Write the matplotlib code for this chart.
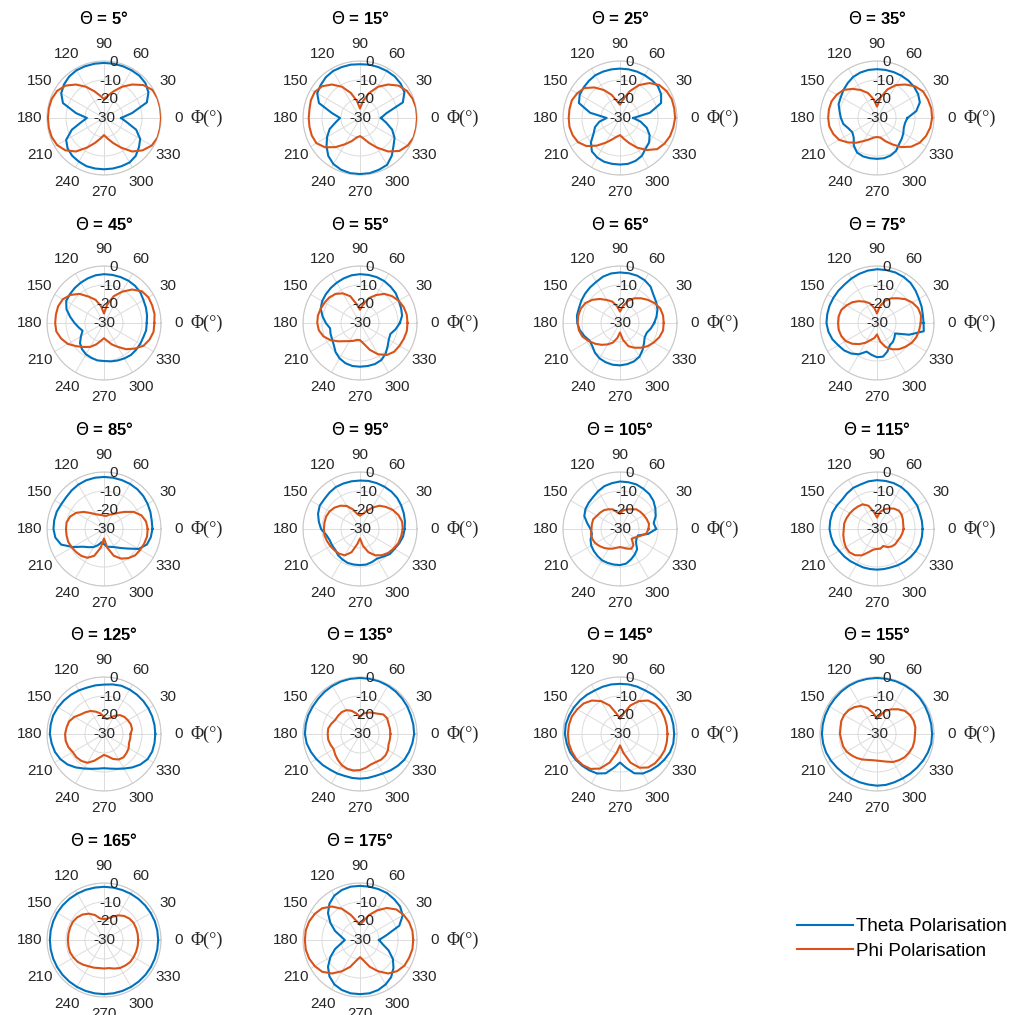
import numpy as np
import matplotlib
matplotlib.use("Agg")
import matplotlib.pyplot as plt
from matplotlib.lines import Line2D

plt.rcParams['font.family'] = ['Liberation Sans', 'DejaVu Sans']
plt.rcParams['mathtext.fontset'] = 'dejavusans'
plt.rcParams['axes.unicode_minus'] = False

# Azimuth angles (degrees)
phi_deg = list(range(0, 360, 10))
theta_cuts = [5, 15, 25, 35, 45, 55, 65, 75, 85, 95, 105, 115, 125, 135, 145, 155, 165, 175]
r_ticks = [-30, -20, -10, 0]
phi_ticks = list(range(0, 360, 30))

# Theta polarisation (dB), values at phi = 0,10,...,350
t005 = [-21, -15, -6, -3, -1.5, -1, -1, -1, -1, -1, -1, -1, -1, -1.5, -2.5, -4, -7, -15,
        -21, -18, -12, -7, -5, -4, -3.5, -3, -3, -3, -3, -3, -3, -4, -6, -8, -12, -18]
t015 = [-19, -16, -6, -3, -2, -1.5, -1.5, -1.5, -1.5, -1.7, -1.5, -1.5, -1.5, -2, -3, -4, -7, -15,
        -19.5, -17, -13, -10, -7, -4, -2, -1, -0.5, -0.5, -0.5, -1, -1.5, -4, -7, -9, -12, -16]
t025 = [-23, -14, -7, -5, -4, -4, -4, -4, -4, -4, -4, -4, -4, -4.5, -5, -5.5, -7, -14,
        -23, -19, -16, -14, -10, -7, -6, -5.5, -5.5, -5.5, -5.5, -6, -7, -9, -10, -12, -15, -19]
t035 = [-14, -9, -6, -5, -4.5, -4.3, -4.3, -4.3, -4.3, -4.3, -4.3, -4.5, -5, -6, -7, -8, -8.5, -10,
        -11, -12, -14, -15, -14, -11, -9, -8.5, -8.5, -8.5, -8.5, -9, -10, -12, -13, -14, -15, -15]
t045 = [-7.5, -7, -6.5, -6, -5, -4.5, -4.3, -4.3, -4.3, -4.3, -4.5, -5, -5.5, -6, -6.5, -7, -9, -12,
        -14.5, -16.5, -18, -16, -13.5, -12, -11, -10.5, -10, -10, -9.5, -9, -8.5, -8, -8, -8, -8, -7.5]
t055 = [-9, -7.5, -7, -6.5, -5.5, -5, -4.5, -4.3, -4.3, -4.3, -4.5, -5, -5.5, -6, -6.5, -7, -8, -10,
        -12, -14, -13.5, -13, -12, -10, -8.5, -7.5, -7, -7, -7, -7, -7.5, -9, -11, -12.5, -13, -11]
t065 = [-12, -10.5, -9, -8, -7, -5, -4, -3.5, -3.4, -3.4, -3.5, -4, -5, -5.5, -6, -6.5, -7, -7,
        -7.5, -8.5, -10, -11.5, -11, -9.5, -8.5, -8, -7.7, -7.7, -8, -8.5, -9.5, -11.5, -13.5, -15, -15, -13.5]
t075 = [-5.5, -5.5, -5, -4.5, -3.5, -2.5, -2, -1.7, -1.7, -1.7, -2, -2.5, -3, -3.5, -3.5, -3.5, -3.4, -3.4,
        -3.4, -4, -5, -6.5, -7.5, -9, -11, -14, -13, -12, -12, -14, -16.5, -17, -18, -19, -12, -5]
t085 = [-4.5, -4.5, -4, -3.5, -3, -2.7, -2.6, -2.6, -2.6, -2.6, -2.6, -2.7, -3, -3.5, -4, -4, -3.5, -3.4,
        -3.4, -4, -6, -11, -15.5, -17.5, -19, -21, -23, -22, -20.5, -20, -19, -17, -14, -9, -6, -5]
t095 = [-6.5, -6, -5.5, -5, -4.5, -4.3, -4.3, -4.3, -4.3, -4.5, -4.5, -4.5, -4.5, -5, -5.5, -5.5, -6.5, -8,
        -9.5, -12, -13, -13, -13, -12, -11.5, -11, -11, -11, -11, -11.5, -12, -11, -9.5, -9, -8, -7]
t105 = [-11, -12, -10, -8.5, -7, -6, -5.5, -5, -5, -5, -5.5, -6, -7, -8, -8.5, -9, -10, -12.5,
        -14.5, -15, -13.5, -12.5, -12, -11.5, -11, -11, -11, -11, -11.5, -13, -14.5, -16, -19, -20, -20, -15]
t115 = [-6, -6, -6, -5.5, -5.5, -5, -4.5, -4.3, -4.3, -4.3, -4.5, -5, -5, -5.5, -6, -5.5, -5, -5,
        -5, -5.5, -6, -7, -7.5, -8, -8.5, -8.5, -8.6, -8.6, -8.6, -8.5, -8, -7.5, -7, -6.5, -6, -6]
t125 = [-3, -3, -3, -3, -3, -3, -3, -3, -3.5, -4, -4, -4, -3.5, -3, -2.5, -2, -1.5, -1.5,
        -1.5, -2, -2.5, -3.5, -5, -7, -9, -10.5, -11.5, -12, -11.5, -10.5, -9, -7, -5, -3.5, -3, -3]
t135 = [-1.5, -1.5, -1.5, -1.2, -1, -0.8, -0.6, -0.5, -0.5, -0.5, -0.5, -0.6, -0.8, -1, -1.2, -1.2, -1, -1,
        -1, -1.5, -2.5, -3.5, -4.5, -5.5, -6, -6.5, -6.5, -6.5, -6.5, -6.5, -6, -5, -4, -3, -2.5, -2]
t145 = [-1.5, -1.5, -1.5, -2, -2.5, -3, -3.5, -3.5, -3.5, -3.6, -3.5, -3.5, -3.5, -3, -2.5, -2, -1.5, -1,
        -1, -1.5, -2, -3, -4, -5, -6, -8, -12, -15, -12, -8, -6, -5, -4, -3, -2, -1.5]
t155 = [-1, -1, -1, -0.8, -0.6, -0.5, -0.5, -0.5, -0.5, -0.5, -0.5, -0.5, -0.6, -0.8, -1, -1, -1, -1,
        -1, -1.2, -1.5, -2, -2.5, -2.8, -3, -3, -3, -2.8, -2.8, -3, -3, -2.8, -2.5, -2, -1.5, -1]
t165 = [-1.5, -1.5, -1.5, -1.6, -1.7, -1.8, -1.9, -2, -2, -2, -2, -1.9, -1.8, -1.7, -1.6, -1.5, -1.5, -1.5,
        -1.5, -1.5, -1.5, -1.5, -1.5, -1.5, -1.5, -1.5, -1.5, -1.5, -1.5, -1.5, -1.5, -1.5, -1.5, -1.5, -1.5, -1.5]
t175 = [-20, -16, -8, -4, -2.5, -2, -1.5, -1.5, -1.5, -1.5, -1.5, -2, -3, -5, -8, -12, -16, -20,
        -22, -20, -16, -12, -8, -5, -3, -2, -1.5, -1.5, -1.5, -2, -3, -4.5, -7, -10, -14, -18]

# Phi polarisation (dB), values at phi = 0,10,...,350
p005 = [0, 0, 0, -0.5, -3, -7, -11, -15, -18, -20, -18, -15, -11, -7, -3.5, -1.5, -0.7, -0.5,
        -0.5, -0.5, -0.7, -1.5, -3.5, -7, -12, -16, -19, -21, -19, -16, -12, -7, -3.5, -1, 0, 0]
p015 = [0, 0, -0.5, -1.5, -3.5, -7, -11, -16, -21, -25, -21, -16, -11, -7, -4, -2.5, -2.5, -3,
        -3, -3, -3, -3.5, -6, -10, -14, -17, -19.5, -20.5, -19, -16, -12, -7, -3, -1, 0, 0]
p025 = [-1, -1, -1, -1.7, -3, -6, -10, -15, -20, -23, -21, -17, -13, -9, -5.5, -4, -3, -3,
        -3, -3, -3.5, -4.5, -7, -11, -15, -18, -20, -21, -19, -16, -12, -8, -4.5, -3, -2, -1.5]
p035 = [-1, -1, -1.5, -2, -4, -7, -10, -14, -19, -24, -20, -16, -13, -10, -7, -5.5, -4.5, -4.3,
        -4.3, -4.5, -5.5, -7, -10, -13, -16, -18, -19.5, -20, -19.5, -17, -14, -10, -6.5, -4, -2.5, -1.5]
p045 = [-3.5, -3, -3, -3, -4, -7, -11, -15, -20, -25, -21, -17, -14, -10, -7, -5, -4.3, -4.3,
        -4.3, -4.5, -6, -8, -11, -13.5, -15.5, -18, -20.5, -22, -20.5, -18, -15.5, -12, -9, -6, -4.5, -3.5]
p055 = [-5, -5, -5.5, -6.5, -8, -10, -13, -16, -20, -23, -20, -15, -12, -10, -9, -8.5, -8, -7.5,
        -7.5, -8, -9.5, -12, -15, -17.5, -19, -20, -21, -21, -19, -15, -11, -8, -6.5, -6, -5.5, -5]
p065 = [-7, -7, -7.5, -9, -11, -13, -15, -17.5, -21, -24, -21, -18, -16, -13.5, -11, -9, -8, -7.7,
        -7.7, -8, -9, -11, -13, -15, -17, -19, -22, -25, -21, -17, -15, -13, -11, -9.5, -8, -7]
p075 = [-7, -6.5, -7, -8.5, -10.5, -13, -15, -17.5, -21, -25, -22, -19, -17, -15, -13, -11.5, -10, -9.5,
        -9.5, -9.5, -10, -11, -13, -15.5, -18, -20.5, -22, -24, -20, -16.5, -14, -12, -10.5, -9, -8, -7.5]
p085 = [-7, -7.5, -9, -12, -16, -19, -21, -22, -23, -23, -22.5, -22, -21, -19, -16, -13, -11, -10,
        -10, -10, -10, -10.5, -11, -11.5, -12.5, -15, -20, -25, -20, -15, -12, -10, -8.5, -8, -7.5, -7]
p095 = [-7.5, -7.5, -8.5, -10, -12, -14, -17, -20, -22, -23, -22, -19, -16, -14, -12.5, -11.5, -11, -11,
        -11, -11, -11.5, -12, -12.5, -13, -14, -17, -22, -25, -21, -17, -14, -12, -10.5, -9.5, -8.5, -8]
p105 = [-15, -14.5, -15, -15.5, -16, -16.5, -18, -19, -20, -22, -21, -19, -18, -17, -16.5, -16, -15, -15,
        -15, -14.5, -14.5, -15, -16, -17, -18, -19, -20, -20.5, -20, -19, -18, -19, -22, -21, -19, -16]
p115 = [-16, -16, -15.5, -15, -15, -16, -17.5, -19, -21, -24, -21, -17, -15, -14.5, -14, -13.5, -13, -12.5,
        -12.5, -12, -11.5, -11, -11, -12, -14, -17, -19, -19.5, -19.5, -20.5, -19, -18, -17.5, -17.5, -17, -16.5]
p125 = [-16, -15, -15, -15.5, -16, -17, -19, -21, -22, -21, -19, -17.5, -16, -15, -14, -12, -10.5, -10,
        -9.5, -9.5, -10, -11, -11, -11.5, -12.5, -15, -17.5, -19, -18, -16, -14.5, -14, -14.5, -15, -16, -16]
p135 = [-14, -14, -14, -13.5, -14, -16, -17, -18, -19, -21, -19, -17, -15.5, -15, -15, -15, -14, -13,
        -13, -13, -13.5, -14, -13, -12, -11, -10.5, -10.5, -11, -12, -13, -13, -12.5, -12.5, -13, -14, -14]
p145 = [-5, -5, -5, -5, -5.5, -7, -10, -14, -19, -22, -19, -14, -10, -7, -5, -4, -3, -2.7,
        -2.6, -2.6, -3, -3.5, -4.5, -6, -9, -14, -20, -24, -20, -14, -9.5, -7, -6, -5.5, -5, -5]
p155 = [-10, -9.5, -9.5, -10, -11, -13, -15, -17, -20, -22, -19, -15.5, -13, -11.5, -10.5, -10, -10, -10.5,
        -10.5, -11, -11, -11.5, -12.5, -13.5, -14.5, -15.5, -16, -16, -15.5, -14.5, -13, -12, -11, -10.5, -10, -10]
p165 = [-12, -12, -12, -12, -12.5, -13.5, -15, -17, -18.5, -19, -18.5, -16, -14, -12.5, -11.5, -11, -11, -11,
        -11, -11, -11, -11.5, -12, -13, -14, -14.5, -15, -15, -15, -14, -13, -12.5, -12, -12, -12, -12]
p175 = [-2, -2, -2.5, -3.5, -5, -8, -12, -16, -20, -22, -20, -16, -11, -7, -4, -2.5, -1.5, -1,
        -1, -1, -1.5, -2.5, -4, -7, -11, -15, -19, -21, -19, -15, -11, -7, -4.5, -3, -2.5, -2]

theta_series = [t005, t015, t025, t035, t045, t055, t065, t075, t085, t095,
                t105, t115, t125, t135, t145, t155, t165, t175]
phi_series = [p005, p015, p025, p035, p045, p055, p065, p075, p085, p095,
              p105, p115, p125, p135, p145, p155, p165, p175]

BLUE = '#0072BD'
ORANGE = '#D95319'
TXT = '#262626'
W = H = 1015
fig = plt.figure(figsize=(10.15, 10.15), dpi=100)

col_x = [104, 360, 620, 877]
row_y = [118, 323, 529, 734, 940]
R = 57

phi_rad = np.deg2rad(phi_deg + [phi_deg[0] + 360])

for i, th in enumerate(theta_cuts):
    cx = col_x[i % 4]
    cy = row_y[i // 4]
    ax = fig.add_axes([(cx - R) / W, 1 - (cy + R) / H, 2 * R / W, 2 * R / H], projection='polar')
    tv = theta_series[i] + [theta_series[i][0]]
    pv = phi_series[i] + [phi_series[i][0]]
    ax.plot(phi_rad, tv, color=BLUE, lw=1.5, zorder=3)
    ax.plot(phi_rad, pv, color=ORANGE, lw=1.5, zorder=3)
    ax.set_ylim(-30, 0)
    ax.set_yticks(r_ticks)
    ax.set_yticklabels([])
    for rv in r_ticks:
        ax.text(np.deg2rad(80), rv, str(rv), ha='center', va='center',
                fontsize=11, color=TXT, zorder=4)
    ax.set_xticks(np.deg2rad(phi_ticks))
    ax.set_xticklabels([str(v) for v in phi_ticks], fontsize=11, color=TXT)
    ax.tick_params(axis='x', pad=2.0)
    ax.grid(True, color='#dcdcdc', lw=0.7)
    ax.spines['polar'].set_color('#c8c8c8')
    ax.spines['polar'].set_linewidth(0.8)
    ax.text(1.26, 0.5, 'Φ(°)', transform=ax.transAxes, fontsize=13,
            family='Liberation Serif', va='center', ha='left', color=TXT)
    fig.text(cx / W, 1 - (cy - 99) / H, r'$\Theta$ = ' + f'{th}°', fontsize=12,
             fontweight='bold', ha='center', va='center', color='black')

handles = [Line2D([], [], color=BLUE, lw=1.5), Line2D([], [], color=ORANGE, lw=1.5)]
fig.legend(handles, ['Theta Polarisation', 'Phi Polarisation'], loc='center left',
           bbox_to_anchor=(797 / W, 1 - 939 / H), frameon=False, fontsize=13.5,
           handlelength=3.0, handletextpad=0.15, labelspacing=0.4,
           borderaxespad=0, borderpad=0)

fig.savefig('out.png', dpi=100, facecolor='white')
